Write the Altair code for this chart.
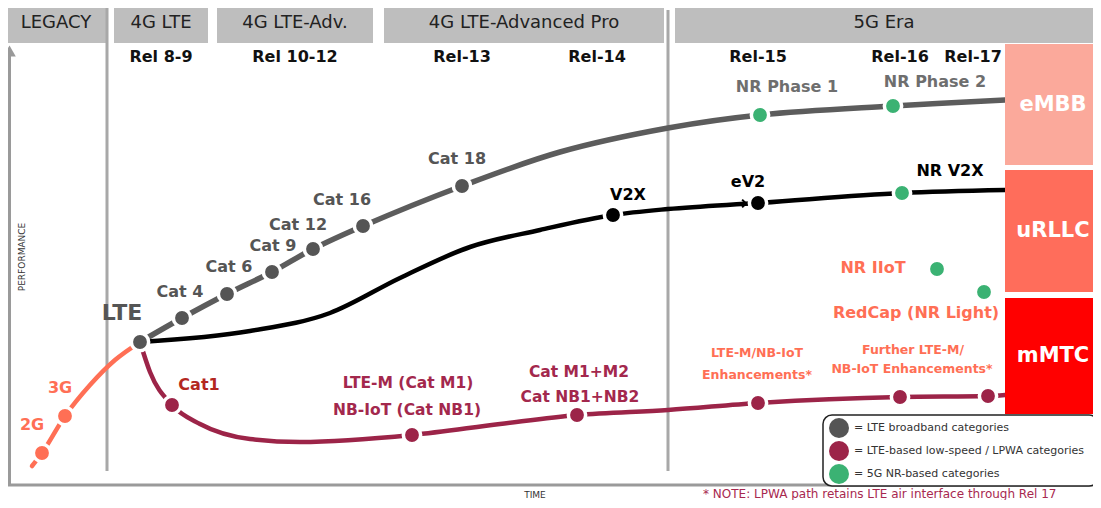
import altair as alt
import pandas as pd

FONT = "DejaVu Sans"

# ---- data (t = time position, p = performance position, top -> bottom)
eras = ["LEGACY", "4G LTE", "4G LTE-Adv.", "4G LTE-Advanced Pro", "5G Era"]
era_start = [6, 114, 217, 384, 675]
era_end = [106, 208, 373, 664, 1093]

releases = ["Rel 8-9", "Rel 10-12", "Rel-13", "Rel-14", "Rel-15", "Rel-16", "Rel-17"]
release_t = [161, 295, 462, 597, 758, 900, 973]

use_cases = ["eMBB", "uRLLC", "mMTC"]
use_top = [44, 170, 298]
use_bottom = [165, 292, 414]
use_colors = ["#fba99b", "#ff6d5b", "#ff0000"]

legacy_t = [32, 42, 65, 90, 115, 140]
legacy_p = [466, 453, 416, 385, 360, 342]

broadband_t = [140, 182, 227, 272, 313, 363, 462, 560, 668, 760, 893, 1005]
broadband_p = [342, 318, 294, 272, 249, 226, 186, 152, 128, 115, 106, 100]

urllc_t = [140, 250, 330, 400, 470, 540, 613, 668, 758, 902, 1005]
urllc_p = [342, 331, 313, 278, 247, 230, 215, 209, 203, 193, 190]

lpwa_t = [140, 150, 172, 200, 250, 300, 412, 500, 577, 668, 758, 900, 988, 1005]
lpwa_p = [342, 372, 405, 424, 439, 442, 435, 424, 415, 410, 403, 397, 396, 395]

dot_names = ["2G", "3G", "LTE", "Cat 4", "Cat 6", "Cat 9", "Cat 12", "Cat 16", "Cat 18",
             "NR Phase 1", "NR Phase 2", "V2X", "eV2", "NR V2X", "Cat1", "NB-IoT",
             "Cat M1+M2", "Enh", "Further Enh", "Rel-17 LPWA", "NR IIoT", "RedCap"]
dot_t = [42, 65, 140, 182, 227, 272, 313, 363, 462, 760, 893, 613, 758, 902, 172, 412,
         577, 758, 900, 988, 937, 984]
dot_p = [453, 416, 342, 318, 294, 272, 249, 226, 186, 115, 106, 215, 203, 193, 405, 435,
         415, 403, 397, 396, 269, 292]
dot_group = ["legacy", "legacy", "broadband", "broadband", "broadband", "broadband",
             "broadband", "broadband", "broadband", "nr", "nr", "v2x", "v2x", "nr", "lpwa",
             "lpwa", "lpwa", "lpwa", "lpwa", "lpwa", "nr", "nr"]
group_names = ["legacy", "broadband", "lpwa", "nr", "v2x"]
group_colors = ["#ff6f55", "#555555", "#9c2448", "#3bb273", "#000000"]

legend_labels = ["= LTE broadband categories", "= LTE-based low-speed / LPWA categories",
                 "= 5G NR-based categories"]
legend_groups = ["broadband", "lpwa", "nr"]

xs = alt.Scale(domain=[8, 1093], nice=False, zero=False)
ys = alt.Scale(domain=[8, 500], nice=False, zero=False, reverse=True)


def X(f="t"):
    return alt.X(f"{f}:Q", scale=xs, axis=None)


def Y(f="p"):
    return alt.Y(f"{f}:Q", scale=ys, axis=None)


def texts(labels, t, p, color, size, bold=True, align="center", angle=None, font=FONT):
    df = pd.DataFrame({"label": labels, "t": t, "p": p})
    kw = dict(font=font, fontSize=size, color=color, align=align, baseline="middle",
              fontWeight="bold" if bold else "normal")
    if angle is not None:
        kw["angle"] = angle
    return alt.Chart(df).mark_text(**kw).encode(x=X(), y=Y(), text="label:N")


def line(t, p, color, width, interp="monotone"):
    df = pd.DataFrame({"t": t, "p": p})
    return alt.Chart(df).mark_line(color=color, strokeWidth=width, interpolate=interp,
                                   strokeCap="round").encode(x=X(), y=Y())


color_scale = alt.Scale(domain=group_names, range=group_colors)

# header boxes
hdr = pd.DataFrame({"label": eras, "t": era_start, "t2": era_end})
hdr["mid"] = (hdr["t"] + hdr["t2"]) / 2
hdr["p"] = 5
hdr["p2"] = 43
hdr["pt"] = 23
header_rect = alt.Chart(hdr).mark_rect(color="#bebebe").encode(
    x=X(), x2="t2:Q", y=Y(), y2="p2:Q")
header_text = alt.Chart(hdr).mark_text(font=FONT, fontSize=18, color="#222222").encode(
    x=X("mid"), y=Y("pt"), text="label:N")

# use-case boxes on the right
uc = pd.DataFrame({"label": use_cases, "p": use_top, "p2": use_bottom})
uc["t"] = 1005
uc["t2"] = 1093
uc["mid"] = (uc["p"] + uc["p2"]) / 2
uc["tm"] = 1053
uc_rect = alt.Chart(uc).mark_rect().encode(
    x=X(), x2="t2:Q", y=Y(), y2="p2:Q",
    color=alt.Color("label:N", scale=alt.Scale(domain=use_cases, range=use_colors), legend=None))
uc_text = alt.Chart(uc).mark_text(font=FONT, fontSize=21, fontWeight="bold", color="white").encode(
    x=X("tm"), y=Y("mid"), text="label:N")

# separators and axes
sep = pd.DataFrame({"t": [107, 668], "p": [5, 10], "p2": [471, 471]})
separators = alt.Chart(sep).mark_rule(color="#a8a8a8", strokeWidth=3).encode(
    x=X(), y=Y(), y2="p2:Q")
yaxis = alt.Chart(pd.DataFrame({"t": [9.5], "p": [486], "p2": [56]})).mark_rule(
    color="#9a9a9a", strokeWidth=3).encode(x=X(), y=Y(), y2="p2:Q")
xaxis = alt.Chart(pd.DataFrame({"t": [8], "t2": [1093], "p": [485]})).mark_rule(
    color="#9a9a9a", strokeWidth=3).encode(x=X(), x2="t2:Q", y=Y())
arrow = alt.Chart(pd.DataFrame({"t": [9.5], "p": [51]})).mark_point(
    shape="triangle-up", filled=True, color="#9a9a9a", size=160, opacity=1).encode(x=X(), y=Y())

# curves
l_legacy = line(legacy_t, legacy_p, "#ff6f55", 4.5)
l_lpwa = line(lpwa_t, lpwa_p, "#9c2448", 4.5)
l_urllc = line(urllc_t, urllc_p, "#000000", 4.5, "monotone")
l_bb = line(broadband_t, broadband_p, "#5c5c5c", 5.5, "catmull-rom")

chev = alt.Chart(pd.DataFrame({"t": [746], "p": [203.5]})).mark_point(
    shape="M-1,-1L0,0L-1,1", filled=False, color="black", strokeWidth=2, size=60, opacity=1
).encode(x=X(), y=Y())

dots_df = pd.DataFrame({"name": dot_names, "t": dot_t, "p": dot_p, "g": dot_group})
dots = alt.Chart(dots_df).mark_point(filled=True, size=300, stroke="white", strokeWidth=3.5,
                                     opacity=1).encode(
    x=X(), y=Y(), color=alt.Color("g:N", scale=color_scale, legend=None))

# labels
lab_rel = texts(releases, release_t, [57] * 7, "#111111", 16)
lab_legacy = texts(["2G", "3G"], [32, 60], [425, 388], "#ff6f55", 16)
lab_lte = texts(["LTE"], [122], [313], "#555555", 22)
lab_cat = texts(["Cat 4", "Cat 6", "Cat 9", "Cat 12", "Cat 16", "Cat 18"],
                [180, 229, 273, 298, 342, 457], [292, 267, 246, 225, 200, 159], "#555555", 16)
lab_nr = texts(["NR Phase 1", "NR Phase 2"], [787, 935], [87, 82], "#6e6e6e", 16)
lab_v2x = texts(["V2X", "eV2", "NR V2X"], [628, 748, 950], [195, 182, 171], "#000000", 16)
lab_cat1 = texts(["Cat1"], [199], [385], "#b3271f", 16)
lab_lpwa = texts(["LTE-M (Cat M1)", "NB-IoT (Cat NB1)", "Cat M1+M2", "Cat NB1+NB2"],
                 [408, 407, 579, 580], [383, 410, 372, 397], "#a3284d", 15.5)
lab_enh = texts(["LTE-M/NB-IoT", "Enhancements*", "Further LTE-M/", "NB-IoT Enhancements*"],
                [757, 757, 913, 912], [353, 375, 350, 369], "#ff6f55", 12.5)
lab_5g = texts(["NR IIoT", "RedCap (NR Light)"], [873, 916], [268, 313], "#ff6f55", 16)

# legend
leg_box = alt.Chart(pd.DataFrame({"t": [823], "t2": [1098], "p": [415], "p2": [486]})).mark_rect(
    fill="white", stroke="#222222", strokeWidth=1.5, cornerRadius=9).encode(
    x=X(), x2="t2:Q", y=Y(), y2="p2:Q")
leg_df = pd.DataFrame({"label": legend_labels, "g": legend_groups, "p": [428, 451, 474]})
leg_df["t"] = 839
leg_df["tt"] = 854
leg_dots = alt.Chart(leg_df).mark_point(filled=True, size=400, opacity=1).encode(
    x=X(), y=Y(), color=alt.Color("g:N", scale=color_scale, legend=None))
leg_text = alt.Chart(leg_df).mark_text(font=FONT, fontSize=11, color="#333333", align="left").encode(
    x=X("tt"), y=Y(), text="label:N")

# axis titles and footnote
t_perf = texts(["PERFORMANCE"], [22], [257], "#333333", 9, bold=False, angle=270)
t_time = texts(["TIME"], [535], [495], "#333333", 9, bold=False)
t_note = texts(["* NOTE: LPWA path retains LTE air interface through Rel 17"], [703], [494],
               "#a8284f", 12, bold=False, align="left")

chart = alt.layer(
    header_rect, header_text, separators, yaxis, xaxis, arrow,
    l_legacy, l_lpwa, l_urllc, l_bb, chev, dots,
    lab_rel, lab_legacy, lab_lte, lab_cat, lab_nr, lab_v2x, lab_cat1, lab_lpwa, lab_enh, lab_5g,
    uc_rect, uc_text, leg_box, leg_dots, leg_text, t_perf, t_time, t_note,
).properties(
    width=1085, height=492, padding=0,
    autosize=alt.AutoSizeParams(type="none"),
).configure_view(stroke=None).resolve_scale(color="independent")

chart.save("out.html", embed_options={"renderer": "svg", "actions": False})
